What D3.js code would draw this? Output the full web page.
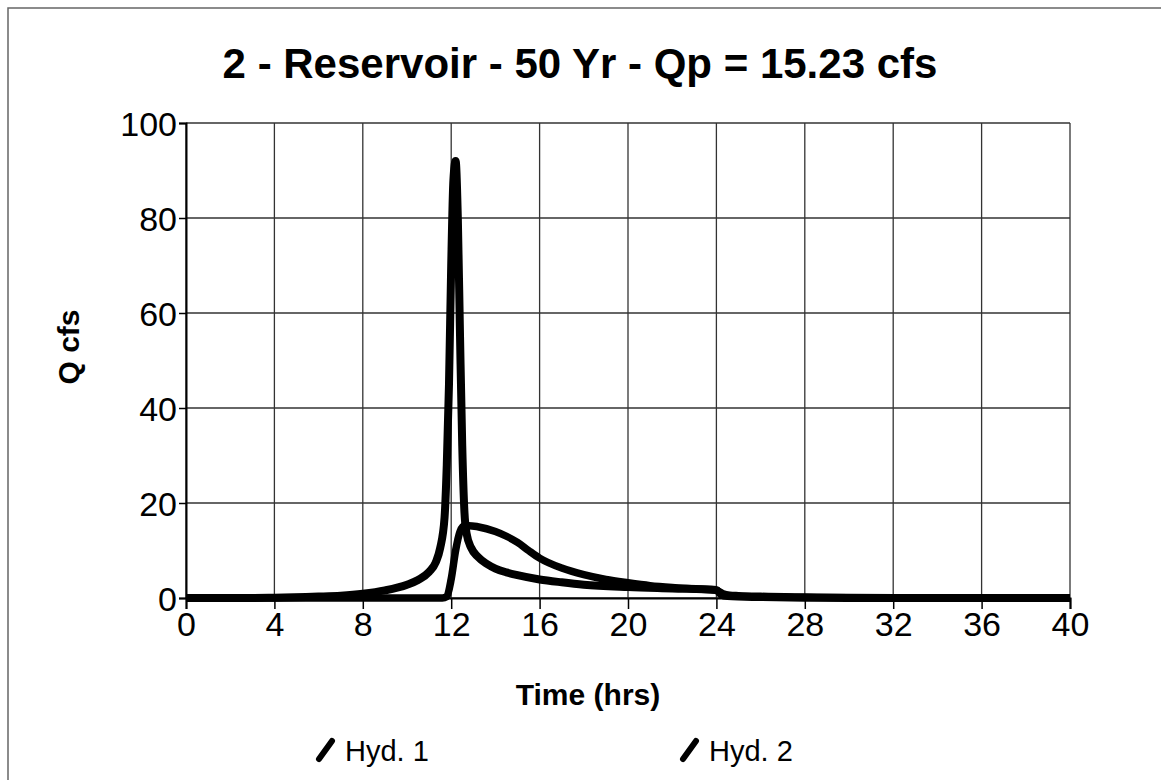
<!DOCTYPE html>
<html>
<head>
<meta charset="utf-8">
<script src="https://cdn.jsdelivr.net/npm/d3@7/dist/d3.min.js"></script>
<style>
  body { margin: 0; background: #fff; }
  svg { display: block; font-family: "Liberation Sans", Arial, sans-serif; }
</style>
</head>
<body>
<div id="wrapper"></div>
<script>
// hydrograph values (hrs, cfs)
const hyd1Time = [0, 2, 4, 6, 7, 8, 9, 10, 10.5, 11, 11.3, 11.5, 11.7, 11.8, 11.9, 12.0, 12.1, 12.2, 12.3, 12.4, 12.5, 12.6, 12.7, 12.9, 13.2, 13.6, 14, 14.5, 15, 16, 17, 18, 20, 22, 24, 24.2, 24.5, 26, 28, 30, 40];
const hyd1Flow = [0, 0, 0.05, 0.3, 0.5, 0.9, 1.6, 2.8, 3.8, 5.5, 7.5, 10.5, 17, 28, 45, 70, 88, 92, 80, 55, 32, 18, 13.5, 10.6, 8.7, 7.2, 6.2, 5.4, 4.8, 3.9, 3.3, 2.8, 2.3, 2.0, 1.7, 0.8, 0.4, 0.2, 0.05, 0, 0];

const hyd2Time = [0, 11.6, 11.8, 12.0, 12.2, 12.4, 12.6, 12.8, 13.2, 14, 14.5, 15, 15.5, 16, 17, 18, 19, 20, 21, 22, 23, 24, 24.3, 24.6, 25, 26, 28, 30, 34, 40];
const hyd2Flow = [0, 0, 0.3, 4, 10, 14, 15.2, 15.23, 15.0, 14.0, 13.0, 11.7, 10.0, 8.4, 6.3, 4.9, 3.9, 3.2, 2.6, 2.2, 1.9, 1.6, 0.9, 0.6, 0.5, 0.35, 0.2, 0.1, 0.05, 0];

const xTicks = [0, 4, 8, 12, 16, 20, 24, 28, 32, 36, 40];
const yTicks = [0, 20, 40, 60, 80, 100];
const seriesNames = ["Hyd. 1", "Hyd. 2"];

const titleText = "2 - Reservoir - 50 Yr - Qp = 15.23 cfs";

const width = 1161, height = 780;
const plot = { left: 186, right: 1070, top: 123, bottom: 598 };

const svg = d3.select("#wrapper").append("svg")
    .attr("width", width)
    .attr("height", height);

// page edge lines from the scan
svg.append("path")
    .attr("d", `M8,780 L8,8 L1161,8`)
    .attr("fill", "none")
    .attr("stroke", "#666")
    .attr("stroke-width", 1.5);

const x = d3.scaleLinear().domain([0, 40]).range([plot.left, plot.right]);
const y = d3.scaleLinear().domain([0, 100]).range([plot.bottom, plot.top]);

// grid
const grid = svg.append("g");
grid.selectAll("line.v").data(xTicks).join("line")
    .attr("x1", d => x(d)).attr("x2", d => x(d))
    .attr("y1", plot.top).attr("y2", plot.bottom)
    .attr("stroke", "#333").attr("stroke-width", 1.3);
grid.selectAll("line.h").data(yTicks).join("line")
    .attr("x1", plot.left).attr("x2", plot.right)
    .attr("y1", d => y(d)).attr("y2", d => y(d))
    .attr("stroke", "#333").attr("stroke-width", 1.3);

// axes
const xAxis = d3.axisBottom(x).tickValues(xTicks).tickSize(11).tickPadding(3);
const yAxis = d3.axisLeft(y).tickValues(yTicks).tickSize(7).tickPadding(2);

const gx = svg.append("g")
    .attr("transform", `translate(0,${plot.bottom})`)
    .call(xAxis);
const gy = svg.append("g")
    .attr("transform", `translate(${plot.left},0)`)
    .call(yAxis);

[gx, gy].forEach(g => {
    g.select(".domain").attr("stroke", "#000").attr("stroke-width", 2);
    g.selectAll(".tick line").attr("stroke", "#000").attr("stroke-width", 1.5);
    g.selectAll(".tick text")
        .attr("fill", "#000")
        .style("font-size", "34px")
        .style("font-family", "'Liberation Sans', Arial, sans-serif");
});
gy.selectAll(".tick text").attr("dy", "0.36em");

// hydrograph lines
const line = d3.line()
    .x(d => x(d[0]))
    .y(d => y(d[1]))
    .curve(d3.curveMonotoneX);

const hyd1 = hyd1Time.map((t, i) => [t, hyd1Flow[i]]);
const hyd2 = hyd2Time.map((t, i) => [t, hyd2Flow[i]]);

svg.append("path")
    .attr("d", line(hyd2))
    .attr("fill", "none")
    .attr("stroke", "#000")
    .attr("stroke-width", 7.5)
    .attr("stroke-linejoin", "round");

svg.append("path")
    .attr("d", line(hyd1))
    .attr("fill", "none")
    .attr("stroke", "#000")
    .attr("stroke-width", 8)
    .attr("stroke-linejoin", "round");

// titles
svg.append("text")
    .attr("x", 580).attr("y", 78)
    .attr("text-anchor", "middle")
    .style("font-size", "42px")
    .style("font-weight", "bold")
    .text(titleText);

svg.append("text")
    .attr("x", 588).attr("y", 705)
    .attr("text-anchor", "middle")
    .style("font-size", "30px")
    .style("font-weight", "bold")
    .text("Time (hrs)");

svg.append("text")
    .attr("transform", "translate(79,347) rotate(-90)")
    .attr("text-anchor", "middle")
    .style("font-size", "30px")
    .style("font-weight", "bold")
    .text("Q cfs");

// legend
const legendX = [316, 680];
const legend = svg.selectAll("g.legend").data(seriesNames).join("g")
    .attr("transform", (d, i) => `translate(${legendX[i]},750)`);
legend.append("line")
    .attr("x1", 3).attr("y1", 9)
    .attr("x2", 16).attr("y2", -9)
    .attr("stroke", "#000")
    .attr("stroke-width", 6)
    .attr("stroke-linecap", "round");
legend.append("text")
    .attr("x", 29).attr("y", 11)
    .style("font-size", "29px")
    .text(d => d);
</script>
</body>
</html>
